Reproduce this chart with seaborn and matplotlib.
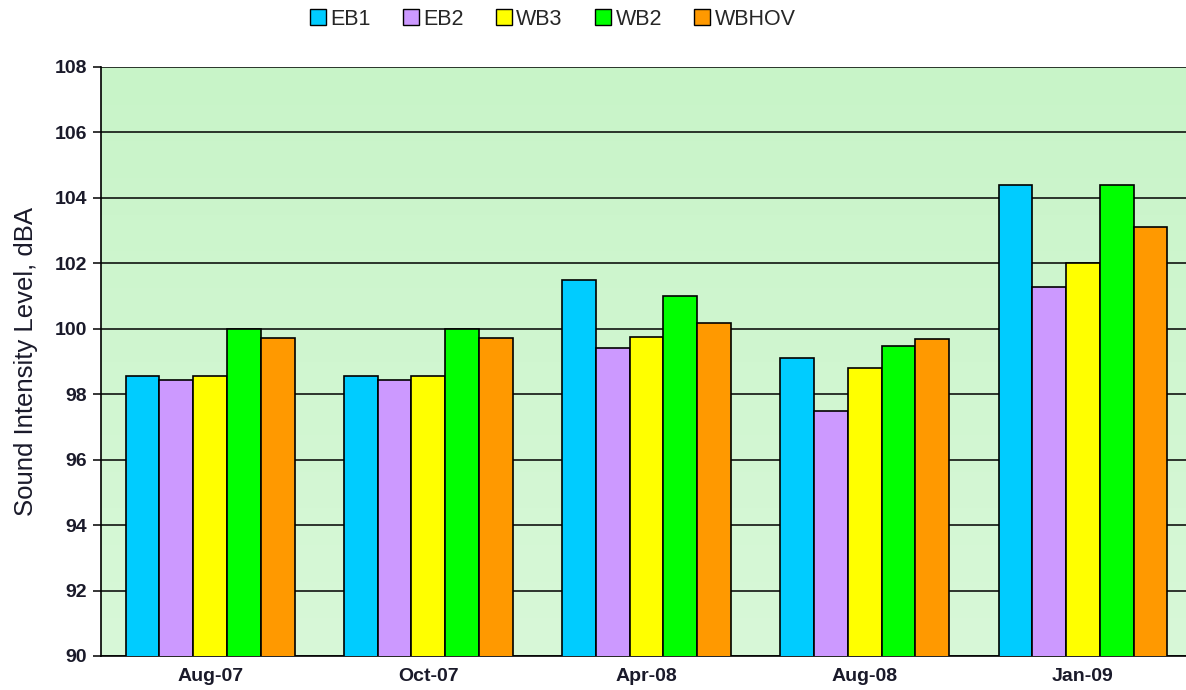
import numpy as np
import pandas as pd
import matplotlib
matplotlib.use("Agg")
import matplotlib.pyplot as plt
import seaborn as sns
from matplotlib.patches import Patch

dates = ["Aug-07", "Oct-07", "Apr-08", "Aug-08", "Jan-09"]
series = ["EB1", "EB2", "WB3", "WB2", "WBHOV"]
eb1 = [98.56, 98.56, 101.48, 99.10, 104.40]
eb2 = [98.44, 98.44, 99.41, 97.49, 101.29]
wb3 = [98.56, 98.56, 99.76, 98.80, 102.00]
wb2 = [100.00, 100.00, 100.99, 99.48, 104.40]
wbhov = [99.73, 99.73, 100.19, 99.69, 103.11]
colors = ["#00CCFF", "#CC99FF", "#FFFF00", "#00FF00", "#FF9900"]

values = [eb1, eb2, wb3, wb2, wbhov]
df = pd.DataFrame(
    [(d, s, v) for s, vals in zip(series, values) for d, v in zip(dates, vals)],
    columns=["date", "lane", "level"],
)

sns.set_theme(style="white")
plt.rcParams["font.family"] = ["Liberation Sans", "DejaVu Sans"]

fig = plt.figure(figsize=(11.86, 6.90), dpi=100)
# plot area runs slightly past the right edge of the canvas
ax = fig.add_axes([0.0852, 0.0493, 0.9199, 0.8536])

# soft green plot-area fill, slightly lighter toward the bottom
grad = np.linspace(0, 1, 256).reshape(-1, 1)
cmap = matplotlib.colors.LinearSegmentedColormap.from_list(
    "bg", ["#D8F8D8", "#C8F4C8"])
ax.imshow(grad, aspect="auto", cmap=cmap, origin="lower",
          extent=[0, 1, 0, 1], transform=ax.transAxes, zorder=0)

sns.barplot(data=df, x="date", y="level", hue="lane", order=dates,
            hue_order=series, palette=colors, width=0.774, dodge=True,
            edgecolor="black", linewidth=1.2, saturation=1, ax=ax, zorder=3)

ax.set_ylim(90, 108)
ax.set_xlim(-0.5, 4.5)
ax.set_yticks(np.arange(90, 109, 2))
ax.yaxis.grid(True, color="black", linewidth=1.1, zorder=1)
ax.set_axisbelow(True)
for sp in ["top", "right"]:
    ax.spines[sp].set_visible(False)
for sp in ["left", "bottom"]:
    ax.spines[sp].set_color("black")
    ax.spines[sp].set_linewidth(1.2)

ax.tick_params(axis="y", which="major", left=True, length=6, width=1.1,
               color="black", labelsize=14, pad=4)
ax.tick_params(axis="x", bottom=False, labelsize=14, pad=3)
for lbl in ax.get_yticklabels() + ax.get_xticklabels():
    lbl.set_fontweight("bold")
    lbl.set_color("#1a1a2a")

ax.set_xlabel("")
ax.set_ylabel("Sound Intensity Level, dBA", fontsize=18.5, color="#1a1a2a",
              labelpad=12)

ax.get_legend().remove()
handles = [Patch(facecolor=c, edgecolor="black", linewidth=1.0) for c in colors]
fig.legend(handles, series, loc="center", bbox_to_anchor=(0.4660, 0.972),
           ncol=5, frameon=False, fontsize=15.5, handlelength=0.75,
           handleheight=0.75, handletextpad=0.2, columnspacing=1.5)

fig.savefig("out.png", dpi=100)
